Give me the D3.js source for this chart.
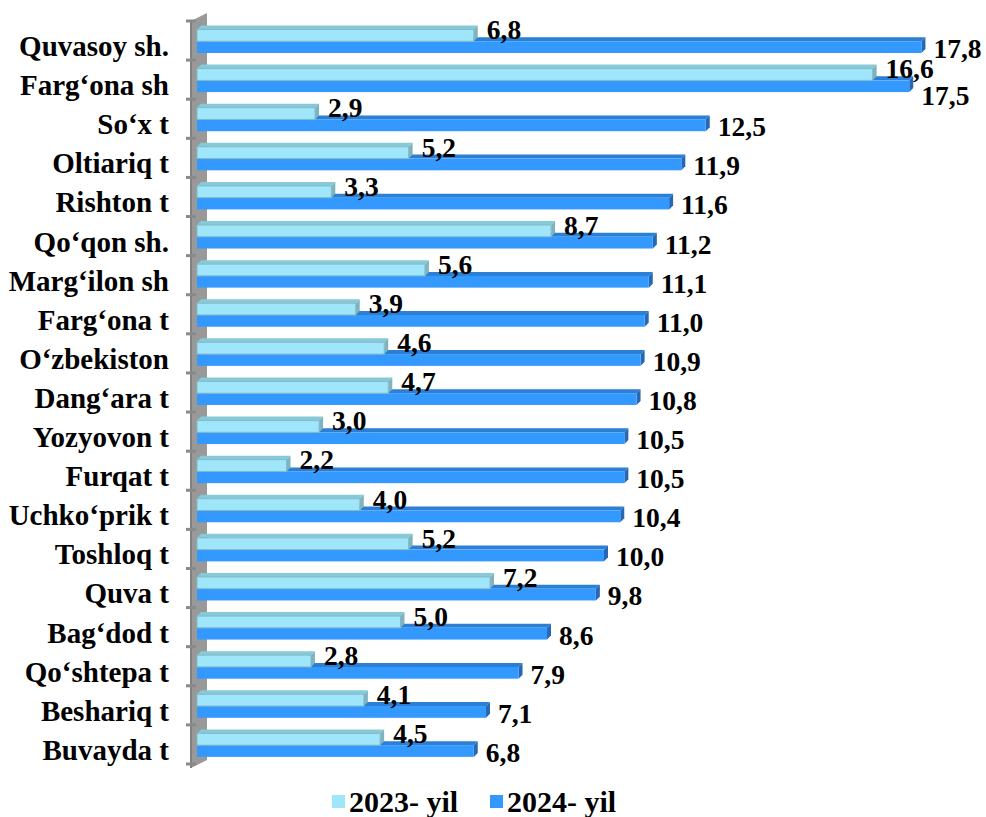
<!DOCTYPE html>
<html>
<head>
<meta charset="utf-8">
<script src="https://cdn.jsdelivr.net/npm/d3@7"></script>
<style>
  html, body { margin: 0; padding: 0; background: #fff; }
  svg { display: block; }
  text { font-family: "Liberation Serif", "Times New Roman", serif; font-weight: bold; fill: #000; }
</style>
</head>
<body>
<script>
const categories = ["Quvasoy sh.", "Farg‘ona sh", "So‘x t", "Oltiariq t", "Rishton t", "Qo‘qon sh.", "Marg‘ilon sh", "Farg‘ona t", "O‘zbekiston", "Dang‘ara t", "Yozyovon t", "Furqat t", "Uchko‘prik t", "Toshloq t", "Quva t", "Bag‘dod t", "Qo‘shtepa t", "Beshariq t", "Buvayda t"];
const values2023 = [6.8, 16.6, 2.9, 5.2, 3.3, 8.7, 5.6, 3.9, 4.6, 4.7, 3.0, 2.2, 4.0, 5.2, 7.2, 5.0, 2.8, 4.1, 4.5];
const values2024 = [17.8, 17.5, 12.5, 11.9, 11.6, 11.2, 11.1, 11.0, 10.9, 10.8, 10.5, 10.5, 10.4, 10.0, 9.8, 8.6, 7.9, 7.1, 6.8];
const seriesNames = ["2023- yil", "2024- yil"];

const W = 986, H = 817;
const svg = d3.select("body").append("svg").attr("width", W).attr("height", H);

const x = d3.scaleLinear().domain([0, 20]).range([197, 1011]);
const y = d3.scaleBand().domain(categories).range([21, 764]).padding(0);
const fmt = v => d3.format(".1f")(v).replace(".", ",");

const colors = {
  light: { front: "#a0e6fb", top: "#86c9d8", side: "#7fb3bf", stroke: "#84b9c4" },
  dark:  { front: "#3399ff", top: "#2b7fd4", side: "#2668b5", stroke: "#3399ff" }
};
const D = 4; // 3D depth

// Wall
const wallG = svg.append("g");
wallG.append("polygon")
  .attr("points", [[191, 21], [207, 13], [207, 760], [191, 768]].map(p => p.join(",")).join(" "))
  .attr("fill", "#999999");
wallG.append("line").attr("x1", 191).attr("x2", 191).attr("y1", 21).attr("y2", 768)
  .attr("stroke", "#808080").attr("stroke-width", 2);
const boundaries = categories.map(c => y(c)).concat([y.range()[1]]);
wallG.selectAll("line.tick").data(boundaries).join("line")
  .attr("class", "tick")
  .attr("x1", 186).attr("x2", 196)
  .attr("y1", d => d).attr("y2", d => d)
  .attr("stroke", "#8a8a8a").attr("stroke-width", 3);

function bar3d(g, x0, x1, yTop, h, c) {
  g.append("polygon")
    .attr("points", [[x0, yTop], [x0 + D, yTop - D], [x1 + D, yTop - D], [x1, yTop]].map(p => p.join(",")).join(" "))
    .attr("fill", c.top);
  g.append("polygon")
    .attr("points", [[x1, yTop], [x1 + D, yTop - D], [x1 + D, yTop + h - D], [x1, yTop + h]].map(p => p.join(",")).join(" "))
    .attr("fill", c.side);
  g.append("rect")
    .attr("x", x0).attr("y", yTop).attr("width", x1 - x0).attr("height", h)
    .attr("fill", c.front);
}

const barsG = svg.append("g");
const labelsG = svg.append("g");
const H1 = 11.75;
categories.forEach((cat, i) => {
  const b = y(cat);
  const lightTop = b + 8.5;
  const darkTop = lightTop + H1;
  const g = barsG.append("g");
  bar3d(g, x(0), x(values2024[i]), darkTop, H1, colors.dark);
  bar3d(g, x(0), x(values2023[i]), lightTop, H1, colors.light);
  g.append("rect").attr("x", x(0)).attr("y", lightTop).attr("width", x(values2023[i]) - x(0)).attr("height", H1)
    .attr("fill", "none").attr("stroke", colors.light.stroke).attr("stroke-width", 1);

  const lx = x(values2023[i]) + D + 9;
  const lt = labelsG.append("text").attr("x", lx).attr("y", darkTop - 2)
    .attr("font-size", 27.5).text(fmt(values2023[i]));
  const lRight = lx + lt.node().getComputedTextLength();
  const dx = x(values2024[i]) + D + 8;
  let dy = darkTop + H1 + 5;
  if (dx < lRight + 2 && dx + 50 > lx) dy += 8;
  labelsG.append("text").attr("x", dx).attr("y", dy)
    .attr("font-size", 27.5).text(fmt(values2024[i]));

  labelsG.append("text").attr("x", 169).attr("y", b + 35)
    .attr("text-anchor", "end").attr("font-size", 29).text(cat);
});

// Legend
const legend = svg.append("g");
const legItems = [
  { name: seriesNames[0], color: colors.light.front, x: 332 },
  { name: seriesNames[1], color: colors.dark.front, x: 490 }
];
legItems.forEach(it => {
  legend.append("rect").attr("x", it.x).attr("y", 795).attr("width", 13).attr("height", 13).attr("fill", it.color);
  legend.append("text").attr("x", it.x + 17).attr("y", 812).attr("font-size", 30).text(it.name);
});
</script>
</body>
</html>
